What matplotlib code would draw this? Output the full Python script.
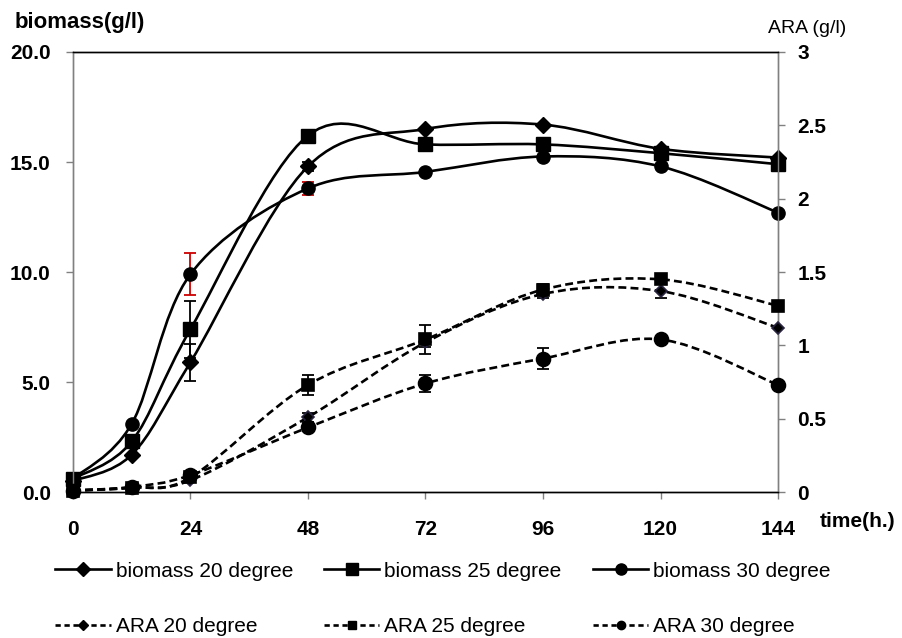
import matplotlib.pyplot as plt
import numpy as np
from matplotlib.path import Path
from matplotlib.patches import PathPatch
from matplotlib.lines import Line2D

plt.rcParams['font.family'] = ['Liberation Sans', 'DejaVu Sans']

# data
time_h = [0, 12, 24, 48, 72, 96, 120, 144]

bio20 = [0.5, 1.7, 5.9, 14.8, 16.5, 16.7, 15.6, 15.2]
bio25 = [0.6, 2.3, 7.4, 16.2, 15.8, 15.8, 15.4, 14.9]
bio30 = [0.6, 3.1, 9.9, 13.8, 14.55, 15.25, 14.8, 12.7]
bio20_err = [0, 0, 0.85, 0.2, 0, 0, 0, 0]
bio25_err = [0, 0, 1.3, 0, 0, 0, 0, 0]
bio30_err = [0, 0, 0.95, 0.3, 0, 0, 0, 0]

ara20 = [0.01, 0.03, 0.08, 0.51, 1.02, 1.35, 1.37, 1.12]
ara25 = [0.01, 0.03, 0.1, 0.73, 1.04, 1.38, 1.45, 1.27]
ara30 = [0.01, 0.035, 0.115, 0.44, 0.74, 0.91, 1.04, 0.73]
ara20_err = [0, 0, 0, 0.03, 0.03, 0.03, 0.05, 0]
ara25_err = [0, 0, 0, 0.07, 0.1, 0.04, 0.02, 0]
ara30_err = [0, 0, 0, 0.02, 0.06, 0.07, 0, 0]

labels_bio = ['biomass 20 degree', 'biomass 25 degree', 'biomass 30 degree']
labels_ara = ['ARA 20 degree', 'ARA 25 degree', 'ARA 30 degree']


def smooth_path(x, y):
    # Excel-style smoothed line: cubic bezier segments through each point
    pts = np.column_stack([x, y]).astype(float)
    n = len(pts)
    verts = [pts[0]]
    codes = [Path.MOVETO]
    for i in range(n - 1):
        p0 = pts[max(i - 1, 0)]
        p1 = pts[i]
        p2 = pts[i + 1]
        p3 = pts[min(i + 2, n - 1)]
        verts += [p1 + (p2 - p0) / 6, p2 - (p3 - p1) / 6, p2]
        codes += [Path.CURVE4] * 3
    return Path(verts, codes)


fig = plt.figure(figsize=(9.03, 6.38), dpi=100)
ax = fig.add_axes([0.0808, 0.2288, 0.7808, 0.6897])
ax2 = ax.twinx()

lw = 1.9
markers = ['D', 's', 'o']
msize_bio = [8, 10, 9.5]
msize_ara = [6.5, 8, 10]

for y, err, m, ms, ecol in zip([bio20, bio25, bio30], [bio20_err, bio25_err, bio30_err],
                               markers, msize_bio, ['black', 'black', '#cc0000']):
    ax.add_patch(PathPatch(smooth_path(time_h, y), fill=False, lw=lw, ec='black',
                           zorder=3))
    ax.errorbar(time_h, y, yerr=err, fmt='none', ecolor=ecol, elinewidth=1.3,
                capsize=4, capthick=1.3, zorder=4)
    ax.plot(time_h, y, ls='none', marker=m, ms=ms, color='black', zorder=5,
            clip_on=False)

ara_edge = ['#2a2440', 'black', 'black']
for y, err, m, ms, ec in zip([ara20, ara25, ara30], [ara20_err, ara25_err, ara30_err],
                             markers, msize_ara, ara_edge):
    ax2.add_patch(PathPatch(smooth_path(time_h, y), fill=False, lw=lw, ec='black',
                            ls=(0, (3, 1.6)), zorder=3))
    ax2.errorbar(time_h, y, yerr=err, fmt='none', ecolor='black', elinewidth=1.3,
                 capsize=4, capthick=1.3, zorder=4)
    ax2.plot(time_h, y, ls='none', marker=m, ms=ms, mfc='black', mec=ec, mew=1.2,
             zorder=5, clip_on=False)

ax.set_xlim(0, 144)
ax.set_ylim(0, 20)
ax2.set_ylim(0, 3)
ax.set_xticks(range(0, 145, 24))
ax.set_yticks(np.arange(0, 20.1, 5))
ax.set_yticklabels([f'{v:.1f}' for v in np.arange(0, 20.1, 5)])
ax2.set_yticks(np.arange(0, 3.01, 0.5))
ax2.set_yticklabels(['0', '0.5', '1', '1.5', '2', '2.5', '3'])

for a in (ax, ax2):
    a.tick_params(direction='out', length=5, width=1, color='#808080',
                  labelsize=15)
    for lab in a.get_xticklabels() + a.get_yticklabels():
        lab.set_fontweight('bold')
    for s in a.spines.values():
        s.set_linewidth(1)
    a.spines['left'].set_color('#808080')
    a.spines['right'].set_color('#808080')
    a.spines['bottom'].set_color('black')
    a.spines['top'].set_color('black')
ax.tick_params(axis='x', pad=15)
ax.tick_params(axis='y', pad=11)
ax2.tick_params(axis='y', pad=9)

fig.text(0.0166, 0.964, 'biomass(g/l)', fontsize=16, fontweight='bold', ha='left',
         va='center')
fig.text(0.851, 0.956, 'ARA (g/l)', fontsize=14, ha='left', va='center')
fig.text(0.908, 0.182, 'time(h.)', fontsize=15, fontweight='bold', ha='left',
         va='center')

# legend handles, ordered so the rows read across like the original
handles = []
labels = []
for m, mb, ma, lb, la in zip(markers, [7, 9, 8], [5, 6, 6], labels_bio, labels_ara):
    handles.append(Line2D([], [], color='black', lw=lw, marker=m, ms=mb))
    labels.append(lb)
    handles.append(Line2D([], [], color='black', lw=lw, ls=(0, (2, 1.4)), marker=m,
                          ms=ma))
    labels.append(la)
fig.legend(handles, labels, ncol=3, loc='upper left',
           bbox_to_anchor=(45 / 903, 0.136), frameon=False, borderpad=0,
           fontsize=15, handlelength=2.65, handletextpad=0.24,
           columnspacing=1.5, labelspacing=1.75)

fig.savefig('out.png', dpi=100)
